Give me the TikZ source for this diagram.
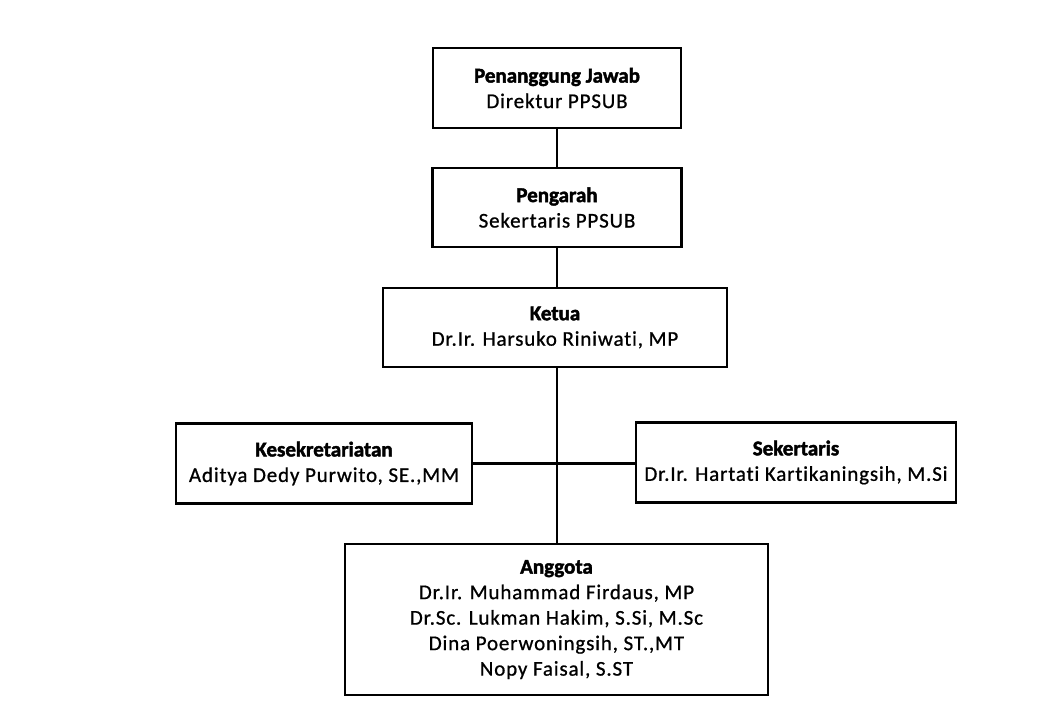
\documentclass[tikz,border=0pt]{standalone}
\usepackage{fontspec}
\setmainfont{Carlito}[Ligatures={NoCommon}, LetterSpace=4, FakeBold=0.8, BoldFeatures={LetterSpace=0, FakeBold=2}]
\begin{document}
\begin{tikzpicture}[x=1pt, y=1pt, line join=miter, line cap=rect,
	box/.style={draw, line width=2.4pt, align=center, inner sep=0pt, font=\fontsize{21}{25.5}\selectfont},
	link/.style={line width=2.4pt}]
				\useasboundingbox (0,0) rectangle (1040,-720);
				% boxes
				\node[box, minimum width=248, minimum height=80] (pj) at (557,-88) {\textbf{Penanggung Jawab}\\Direktur PPSUB};
				\node[box, minimum width=249, minimum height=79] (pg) at (557,-207.5) {\textbf{Pengarah}\\Sekertaris PPSUB};
				\node[box, minimum width=344, minimum height=79] (ketua) at (555,-327.5) {\textbf{Ketua}\\Dr.Ir. Harsuko Riniwati, MP};
				\node[box, minimum width=296, minimum height=80] (kesek) at (324,-463.5) {\textbf{Kesekretariatan}\\Aditya Dedy Purwito, SE.,MM};
				\node[box, minimum width=320, minimum height=80] (sek) at (796,-462.5) {\textbf{Sekertaris}\\Dr.Ir. Hartati Kartikaningsih, M.Si};
				\node[box, minimum width=423, minimum height=151] (ang) at (556.5,-619.5) {\textbf{Anggota}\\Dr.Ir. Muhammad Firdaus, MP\\Dr.Sc. Lukman Hakim, S.Si, M.Sc\\Dina Poerwoningsih, ST.,MT\\Nopy Faisal, S.ST};
				% lines
				\draw[link] (pj.south) -- (pg.north);
				\draw[link] (pg.south) -- (pg.south |- ketua.north);
				\draw[link] (pg.south |- ketua.south) -- (pg.south |- ang.north);
				\draw[link] (kesek.east) -- (kesek.east -| sek.west);
\end{tikzpicture}
\end{document}
